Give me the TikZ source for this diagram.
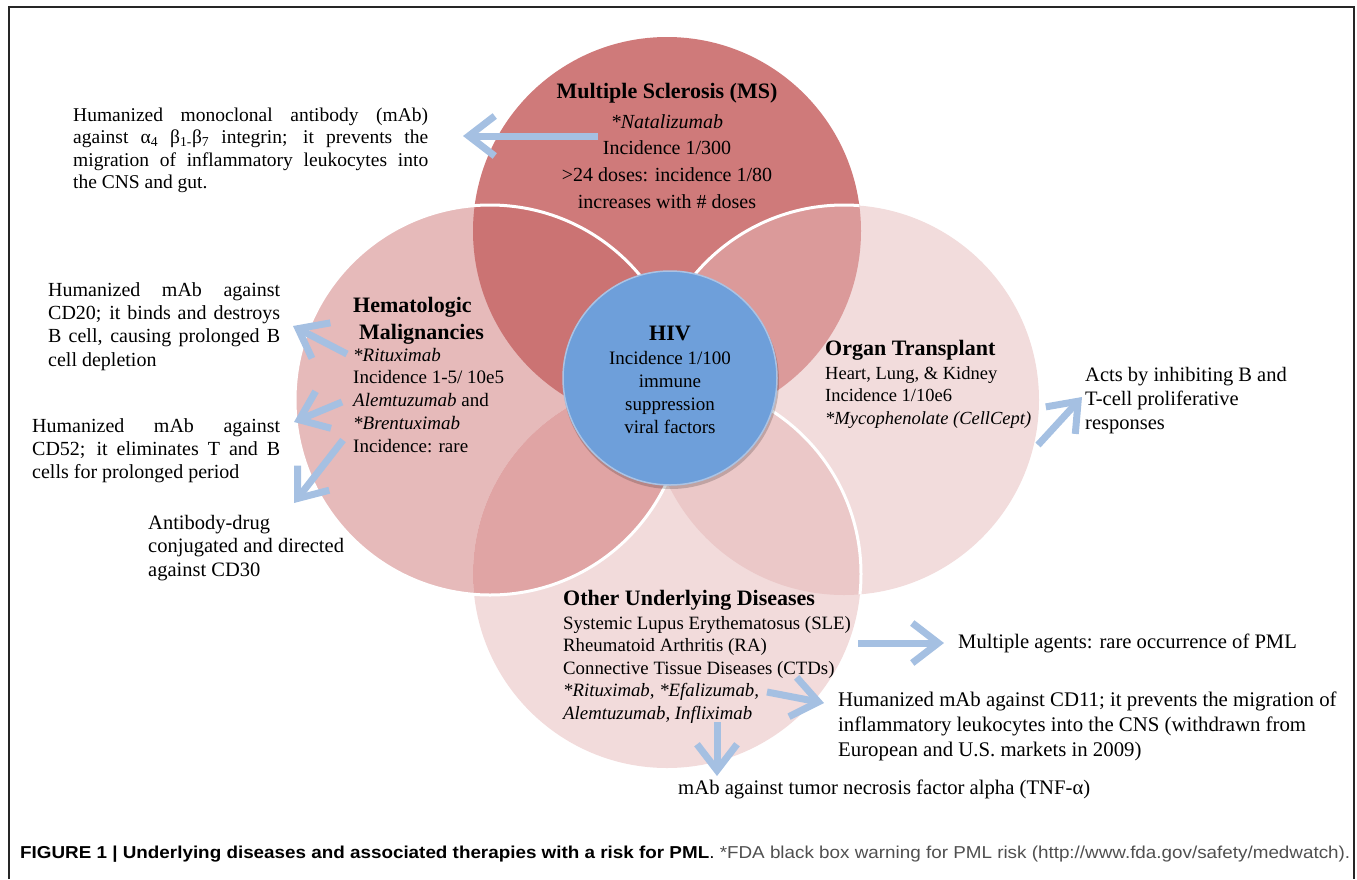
\documentclass[tikz,border=0pt]{standalone}
\usepackage{fontspec}
\setmainfont{Liberation Serif}
\newfontfamily\capfont{Liberation Sans}
\usepackage{graphicx}
\usetikzlibrary{arrows.meta}
\definecolor{msc}{RGB}{207,122,122}
\definecolor{mslc}{RGB}{203,115,115}
\definecolor{msrc}{RGB}{219,154,154}
\definecolor{lc}{RGB}{230,186,186}
\definecolor{rc}{RGB}{242,220,220}
\definecolor{bc}{RGB}{242,219,219}
\definecolor{lbc}{RGB}{224,164,164}
\definecolor{rbc}{RGB}{235,200,200}
\definecolor{hivc}{RGB}{110,159,218}
\definecolor{hivb}{RGB}{170,195,228}
\definecolor{arrowc}{RGB}{165,192,226}
\definecolor{capgray}{RGB}{80,80,80}
\newcommand\tstr{\rule{0pt}{16pt}}
\newcommand\jline[2]{\makebox[#1][s]{#2}}
\tikzset{
  fat/.style={draw=arrowc, line width=7pt, -{Straight Barb[length=26pt, width=40pt, line width=7pt]}},
  note/.style={inner sep=0pt, anchor=north west, align=left, font=\fontsize{20}{23.3}\selectfont},
  body/.style={inner sep=0pt, align=left, font=\fontsize{19}{22.7}\selectfont},
  head/.style={inner sep=0pt, font=\fontsize{22}{27}\selectfont\bfseries},
  outline/.style={draw=white, line width=3pt}
}
\begin{document}
\begin{tikzpicture}[x=1pt,y=-1pt]
\useasboundingbox (0,0) rectangle (1357,879);
% frame
\draw[line width=1.2pt, black!85] (9,879) -- (9,7) -- (1354,7) -- (1354,879);
% circles
\coordinate (cms) at (667,231);
\coordinate (cl) at (490,400);
\coordinate (cr) at (844,400);
\coordinate (cb) at (667,574);
\fill[msc] (cms) circle[radius=194];
\fill[lc] (cl) circle[radius=195];
\fill[rc] (cr) circle[radius=195];
\fill[bc] (cb) circle[radius=194];
\begin{scope}
  \clip (cms) circle[radius=194];
  \fill[mslc] (cl) circle[radius=195];
  \fill[msrc] (cr) circle[radius=195];
\end{scope}
\begin{scope}
  \clip (cb) circle[radius=194];
  \fill[lbc] (cl) circle[radius=195];
  \fill[rbc] (cr) circle[radius=195];
\end{scope}
\begin{scope}
  \clip (cms) circle[radius=194];
  \draw[outline] (cr) circle[radius=195];
\end{scope}
\begin{scope}
  \clip (cr) circle[radius=195];
  \draw[outline] (cb) circle[radius=194];
\end{scope}
\draw[outline] (cl) circle[radius=195];
% HIV
\fill[black, opacity=0.18] (671,381) circle[radius=108];
\node[circle, minimum size=214pt, inner sep=0pt, fill=hivc, draw=hivb, line width=1.5pt] (hiv) at (670,378) {};
\node[head, anchor=base] (hivhead) at (670,340) {HIV};
\node[body, align=center, anchor=north, font=\fontsize{19}{23}\selectfont] (hivbody) at (670,348)
  {\tstr Incidence 1/100\\immune\\suppression\\viral factors};
% MS
\node[head, anchor=base] (mshead) at (667,98) {Multiple Sclerosis (MS)};
\node[body, align=center, anchor=north, font=\fontsize{20}{26.7}\selectfont] (msbody) at (667,112)
  {\tstr\textit{*Natalizumab}\\Incidence 1/300\\>24 doses: incidence 1/80\\increases with \# doses};
% Hematologic
\node[head, anchor=north west, align=left] (hemahead) at (353,294)
  {\rule{0pt}{18pt}Hematologic\\\hspace{6pt}Malignancies};
\node[body, anchor=north west] (hemabody) at (353,345)
  {\tstr\textit{*Rituximab}\\Incidence 1-5/ 10e5\\\textit{Alemtuzumab} and\\\textit{*Brentuximab}\\Incidence: rare};
% Organ
\node[head, anchor=base west] (orghead) at (825,355) {Organ Transplant};
\node[body, anchor=north west, font=\fontsize{18.5}{22.5}\selectfont] (orgbody) at (825,363)
  {\tstr Heart, Lung, \& Kidney\\Incidence 1/10e6\\\textit{*Mycophenolate (CellCept)}};
% Other
\node[head, anchor=base west] (othhead) at (563,605) {Other Underlying Diseases};
\node[body, anchor=north west, font=\fontsize{18.8}{22.5}\selectfont] (othbody) at (563,613)
  {\tstr Systemic Lupus Erythematosus (SLE)\\Rheumatoid Arthritis (RA)\\Connective Tissue Diseases (CTDs)\\\textit{*Rituximab, *Efalizumab,}\\\textit{Alemtuzumab, Infliximab}};
% notes
\node[note, font=\fontsize{19.5}{22.5}\selectfont] (msnote) at (73,105)
  {\tstr\jline{355pt}{Humanized monoclonal antibody (mAb)}\\
   \jline{355pt}{against α\textsubscript{4} β\textsubscript{1-}β\textsubscript{7} integrin; it prevents the}\\
   \jline{355pt}{migration of inflammatory leukocytes into}\\
   the CNS and gut.};
\node[note] (cd20note) at (48,280)
  {\tstr\jline{232pt}{Humanized mAb against}\\
   \jline{232pt}{CD20; it binds and destroys}\\
   \jline{232pt}{B cell, causing prolonged B}\\
   cell depletion};
\node[note] (cd52note) at (32,416)
  {\tstr\jline{248pt}{Humanized mAb against}\\
   \jline{248pt}{CD52; it eliminates T and B}\\
   cells for prolonged period};
\node[note, font=\fontsize{20.5}{23.5}\selectfont] (cd30note) at (148,513)
  {\tstr Antibody-drug\\conjugated and directed\\against CD30};
\node[note, font=\fontsize{20.5}{24}\selectfont] (orgnote) at (1085,365)
  {\tstr Acts by inhibiting B and\\T-cell proliferative\\responses};
\node[note, font=\fontsize{20.6}{25}\selectfont] (pmlnote) at (958,632) {\tstr Multiple agents: rare occurrence of PML};
\node[note, font=\fontsize{20.8}{25}\selectfont] (cd11note) at (838,690)
  {\tstr Humanized mAb against CD11; it prevents the migration of\\
   inflammatory leukocytes into the CNS (withdrawn from\\
   European and U.S. markets in 2009)};
\node[note, font=\fontsize{20.7}{25}\selectfont] (tnfnote) at (678,778) {\tstr mAb against tumor necrosis factor alpha (TNF-α)};
% arrows
\coordinate (a1s) at (598,136); \coordinate (a1e) at (463,136);
\coordinate (a2s) at (347,354); \coordinate (a2e) at (293,326);
\coordinate (a3s) at (342,402); \coordinate (a3e) at (294,422);
\coordinate (a4s) at (343,440); \coordinate (a4e) at (294,503);
\coordinate (a5s) at (1038,445); \coordinate (a5e) at (1082,397);
\coordinate (a6s) at (858,643); \coordinate (a6e) at (944,643);
\coordinate (a7s) at (767,692); \coordinate (a7e) at (824,703);
\coordinate (a8s) at (717,722); \coordinate (a8e) at (717,776);
\foreach \i in {1,...,8} {\draw[fat] (a\i s) -- (a\i e);}
% caption
\node[inner sep=0pt, anchor=base west] (caption) at (20,858)
  {\resizebox{1330pt}{12.5pt}{\capfont\fontsize{16}{18}\selectfont
   \textbf{FIGURE 1 | Underlying diseases and associated therapies with a risk for PML}.
   \textcolor{capgray}{*FDA black box warning for PML risk (http://www.fda.gov/safety/medwatch).}}};
\end{tikzpicture}
\end{document}
